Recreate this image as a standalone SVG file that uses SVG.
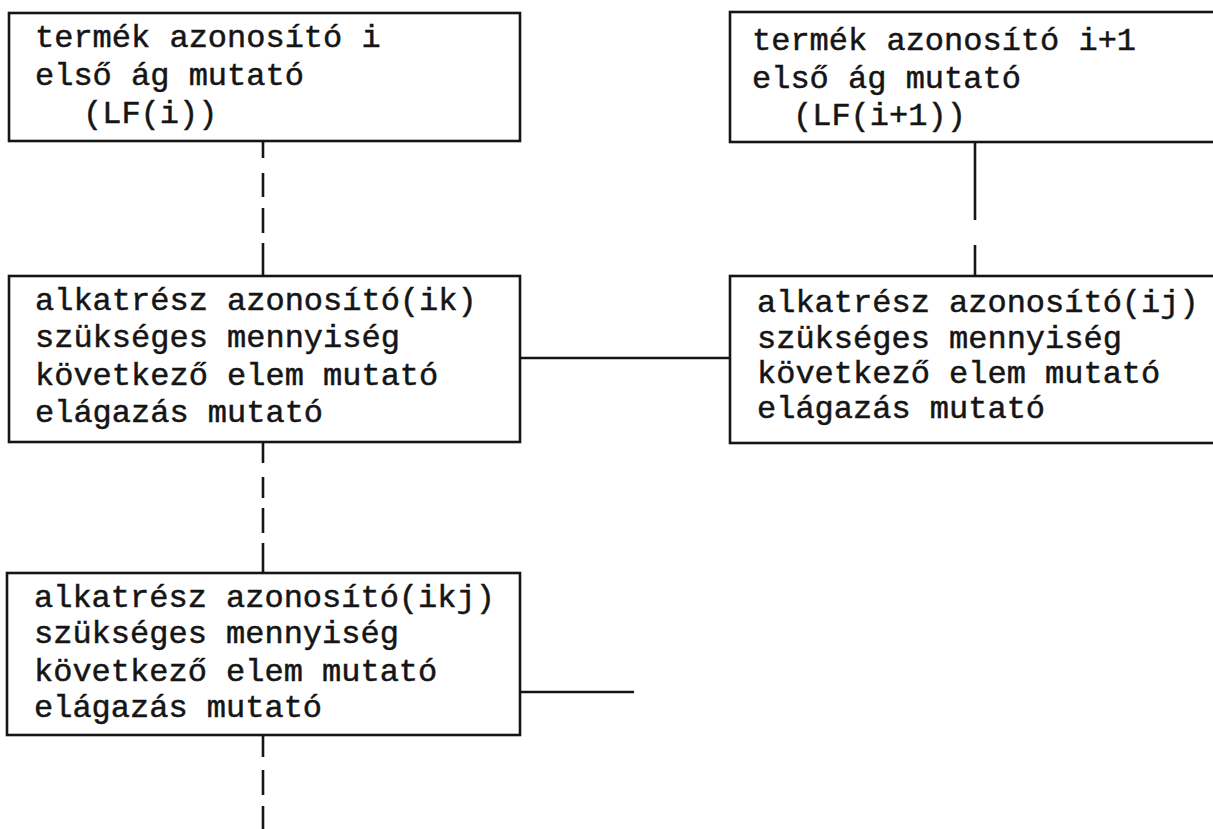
<svg xmlns="http://www.w3.org/2000/svg" width="1213" height="829" viewBox="0 0 1213 829">
<style>
.box{fill:#fff;stroke:#151515;stroke-width:2.6}
.t{font-family:"Liberation Mono","Courier New",monospace;font-size:32px;fill:#151515;stroke:#151515;stroke-width:0.5}
.c{fill:none;stroke:#151515;stroke-width:2.6}
</style>
<rect width="1213" height="829" fill="#fff"/>
<g id="connectors">
<path class="c" d="M263 141V158M263 173V197M263 208V233M263 243V276"/>
<path class="c" d="M263 442V463M263 477V498M263 508V533M263 543V573"/>
<path class="c" d="M263 735V757M263 770V795M263 806V829"/>
<path class="c" d="M975 142V220M975 245V276"/>
<path class="c" d="M520 358H730"/>
<path class="c" d="M520 692H634"/>
</g>
<g id="node-termek-i">
<rect class="box" x="9" y="13" width="511" height="128"/>
<text class="t" x="35" y="47">termék azonosító i</text>
<text class="t" x="35" y="85">első ág mutató</text>
<text class="t" x="83" y="123">(LF(i))</text>
</g>
<g id="node-termek-i1">
<rect class="box" x="730" y="12" width="500" height="130"/>
<text class="t" x="752" y="50">termék azonosító i+1</text>
<text class="t" x="752" y="88">első ág mutató</text>
<text class="t" x="793" y="125">(LF(i+1))</text>
</g>
<g id="node-ik">
<rect class="box" x="9" y="276" width="511" height="166"/>
<text class="t" x="35" y="310">alkatrész azonosító(ik)</text>
<text class="t" x="35" y="347">szükséges mennyiség</text>
<text class="t" x="35" y="385">következő elem mutató</text>
<text class="t" x="35" y="422">elágazás mutató</text>
</g>
<g id="node-ij">
<rect class="box" x="730" y="276" width="500" height="167"/>
<text class="t" x="757" y="312">alkatrész azonosító(ij)</text>
<text class="t" x="757" y="348">szükséges mennyiség</text>
<text class="t" x="757" y="383">következő elem mutató</text>
<text class="t" x="757" y="418">elágazás mutató</text>
</g>
<g id="node-ikj">
<rect class="box" x="7" y="573" width="513" height="162"/>
<text class="t" x="34" y="607">alkatrész azonosító(ikj)</text>
<text class="t" x="34" y="643">szükséges mennyiség</text>
<text class="t" x="34" y="681">következő elem mutató</text>
<text class="t" x="34" y="717">elágazás mutató</text>
</g>
</svg>
